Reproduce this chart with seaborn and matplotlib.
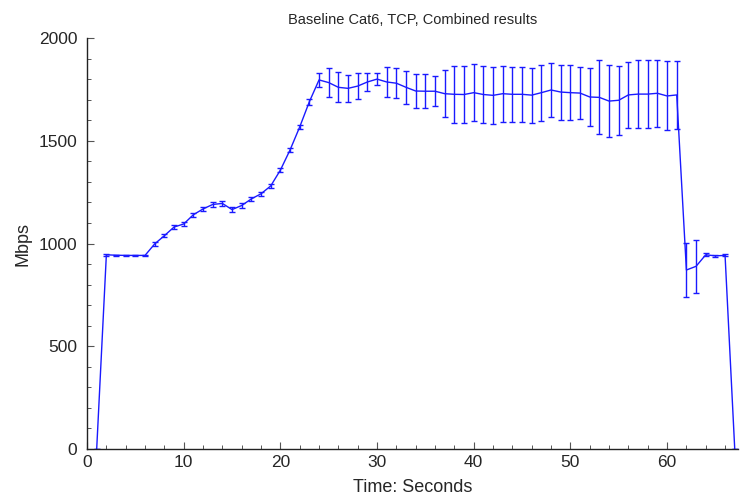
import numpy as np
import matplotlib
matplotlib.use('Agg')
import matplotlib.pyplot as plt
import seaborn as sns
from matplotlib.ticker import MultipleLocator

# data: time (s), mean throughput (Mbps), error half-width
seconds = list(range(1, 68))
mbps = [0, 945, 943, 942, 942, 942, 998, 1038, 1080, 1095,
        1140, 1168, 1190, 1195, 1165, 1185, 1217, 1242, 1280, 1357,
        1455, 1567, 1690, 1796, 1783, 1760, 1755, 1766, 1786, 1800,
        1786, 1780, 1760, 1742, 1741, 1741, 1729, 1726, 1725, 1734,
        1725, 1721, 1729, 1726, 1726, 1722, 1734, 1747, 1737, 1734,
        1732, 1713, 1711, 1693, 1697, 1723, 1727, 1727, 1731, 1718,
        1723, 871, 889, 945, 940, 942, 0]
err = [0, 4, 3, 3, 3, 3, 8, 8, 8, 10,
       10, 12, 12, 14, 12, 10, 10, 10, 10, 10,
       12, 12, 14, 35, 70, 73, 66, 63, 45, 30,
       72, 72, 80, 84, 84, 72, 114, 140, 138, 140,
       141, 139, 137, 135, 135, 134, 136, 130, 134, 134,
       127, 142, 180, 174, 169, 162, 167, 167, 162, 168,
       166, 133, 130, 8, 5, 5, 0]

sns.set_style("ticks")
plt.rcParams['font.family'] = ['Liberation Sans', 'DejaVu Sans']

fig = plt.figure(figsize=(7.4, 5), dpi=100)
ax = fig.add_axes([0.1176, 0.102, 0.8792, 0.822])

sns.lineplot(x=seconds, y=mbps, ax=ax, color='#1a1aff', linewidth=1.0)
ax.errorbar(seconds, mbps, yerr=err, fmt='none', ecolor='#1a1aff',
            elinewidth=1.0, capsize=2.2, capthick=1.0)

ax.set_xlim(0, 67.3)
ax.set_ylim(0, 2000)
ax.xaxis.set_major_locator(MultipleLocator(10))
ax.xaxis.set_minor_locator(MultipleLocator(2))
ax.yaxis.set_major_locator(MultipleLocator(500))
ax.yaxis.set_minor_locator(MultipleLocator(100))
ax.tick_params(which='major', direction='in', length=5, width=0.8,
               color='#555555', labelsize=12.5)
ax.tick_params(axis='y', which='major', pad=7)
ax.tick_params(axis='x', which='major', pad=4)
ax.tick_params(which='minor', direction='in', length=2.8, width=0.7,
               color='#555555')

sns.despine(ax=ax)
for s in ['left', 'bottom']:
    ax.spines[s].set_color('#222222')
    ax.spines[s].set_linewidth(1.0)

ax.set_xlabel('Time: Seconds', fontsize=13, labelpad=7)
ax.set_ylabel('Mbps', fontsize=13, labelpad=5)
ax.set_title('Baseline Cat6, TCP, Combined results', fontsize=10.5, pad=10)

fig.savefig('out.png', dpi=100)
